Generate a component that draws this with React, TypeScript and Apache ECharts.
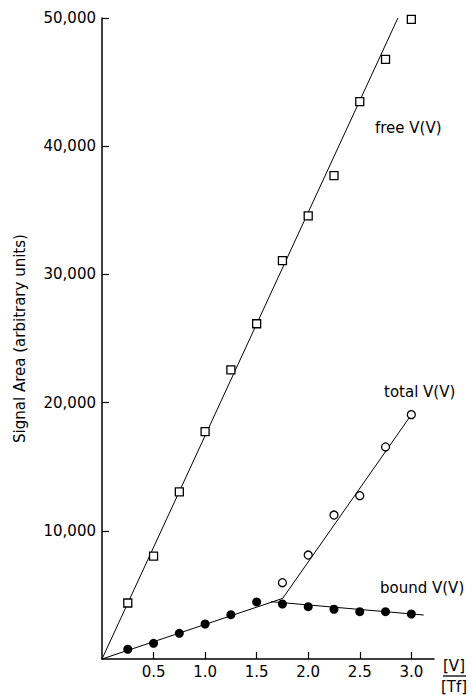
import React, { useEffect, useRef } from "react";
import * as echarts from "echarts";

// Ratio [V]/[Tf]
const ratios = [0.25, 0.5, 0.75, 1.0, 1.25, 1.5, 1.75, 2.0, 2.25, 2.5, 2.75, 3.0];
const freeV = [4370, 8030, 13030, 17730, 22550, 26150, 31070, 34560, 37700, 43470, 46780, 49900];
const boundV = [760, 1220, 2000, 2730, 3460, 4450, 4290, 4080, 3880, 3690, 3690, 3510];
const totalRatios = [1.75, 2.0, 2.25, 2.5, 2.75, 3.0];
const totalV = [5950, 8110, 11230, 12740, 16540, 19060];

// Fitted straight lines, as [ratio, area] end points
const freeFit = [[0, 0], [2.87, 50000]];
const boundRiseFit = [[0, 0], [1.75, 4720]];
const boundFallFit = [[1.64, 4470], [3.12, 3430]];
const totalFit = [[1.75, 4700], [3.0, 19050]];

const xTicks = [0.5, 1.0, 1.5, 2.0, 2.5, 3.0];
const yTicks = [10000, 20000, 30000, 40000, 50000];

const FONT = "DejaVu Sans";
const INK = "#000";

export default function App() {
  const ref = useRef<HTMLDivElement>(null);

  useEffect(() => {
    if (!ref.current) return;
    const chart = echarts.init(ref.current, null, { renderer: "svg" });
    const pair = (xs: number[], ys: number[]) => xs.map((x, i) => [x, ys[i]]);
    const fitLine = (data: number[][]) => ({
      type: "line",
      data,
      symbol: "none",
      silent: true,
      lineStyle: { color: INK, width: 1 },
      z: 1,
    });

    chart.setOption({
      animation: false,
      backgroundColor: "#fff",
      textStyle: { fontFamily: FONT, color: INK },
      grid: { left: 102, right: 39, top: 18, bottom: 38, containLabel: false },
      xAxis: {
        type: "value",
        min: 0,
        max: 3.22,
        interval: 0.5,
        splitLine: { show: false },
        axisLine: { lineStyle: { color: INK, width: 1.5 } },
        axisTick: { inside: true, length: 7, lineStyle: { color: INK, width: 1.2 }, customValues: xTicks },
        axisLabel: {
          customValues: xTicks,
          formatter: (v: number) => v.toFixed(1),
          color: INK,
          fontFamily: FONT,
          fontSize: 15,
          margin: 5,
        },
      },
      yAxis: {
        type: "value",
        min: 0,
        max: 50000,
        interval: 10000,
        name: "Signal Area (arbitrary units)",
        nameLocation: "middle",
        nameRotate: 90,
        nameGap: 75,
        nameTextStyle: { color: INK, fontFamily: FONT, fontSize: 15 },
        splitLine: { show: false },
        axisLine: { show: true, lineStyle: { color: INK, width: 1.5 } },
        axisTick: { show: true, inside: true, length: 7, lineStyle: { color: INK, width: 1.2 }, customValues: yTicks },
        axisLabel: {
          customValues: yTicks,
          formatter: (v: number) => v.toLocaleString("en-US"),
          color: INK,
          fontFamily: FONT,
          fontSize: 15,
          margin: 6,
        },
      },
      series: [
        fitLine(freeFit),
        fitLine(boundRiseFit),
        fitLine(boundFallFit),
        fitLine(totalFit),
        {
          type: "scatter",
          name: "free V(V)",
          data: pair(ratios, freeV),
          symbol: "rect",
          symbolSize: 8,
          itemStyle: { color: "#fff", borderColor: INK, borderWidth: 1.3, opacity: 1 },
          z: 3,
        },
        {
          type: "scatter",
          name: "total V(V)",
          data: pair(totalRatios, totalV),
          symbol: "circle",
          symbolSize: 8,
          itemStyle: { color: "#fff", borderColor: INK, borderWidth: 1.3, opacity: 1 },
          z: 3,
        },
        {
          type: "scatter",
          name: "bound V(V)",
          data: pair(ratios, boundV),
          symbol: "circle",
          symbolSize: 9,
          itemStyle: { color: INK, borderColor: INK, borderWidth: 0, opacity: 1 },
          z: 3,
        },
      ],
      graphic: [
        { type: "text", x: 375, y: 128, style: { text: "free V(V)", font: `15px "${FONT}"`, fill: INK, verticalAlign: "middle" } },
        { type: "text", x: 384, y: 392, style: { text: "total V(V)", font: `15px "${FONT}"`, fill: INK, verticalAlign: "middle" } },
        { type: "text", x: 380, y: 588, style: { text: "bound V(V)", font: `15px "${FONT}"`, fill: INK, verticalAlign: "middle" } },
        { type: "text", x: 454, y: 666, style: { text: "[V]", font: `15px "${FONT}"`, fill: INK, align: "center", verticalAlign: "middle" } },
        { type: "line", shape: { x1: 443, y1: 676, x2: 466, y2: 676 }, style: { stroke: INK, lineWidth: 1.3 } },
        { type: "text", x: 454, y: 687, style: { text: "[Tf]", font: `15px "${FONT}"`, fill: INK, align: "center", verticalAlign: "middle" } },
      ],
    });
    return () => chart.dispose();
  }, []);

  return (
    <div
      ref={ref}
      style={{ position: "fixed", left: 0, top: 0, width: 473, height: 697, background: "#fff" }}
    />
  );
}
